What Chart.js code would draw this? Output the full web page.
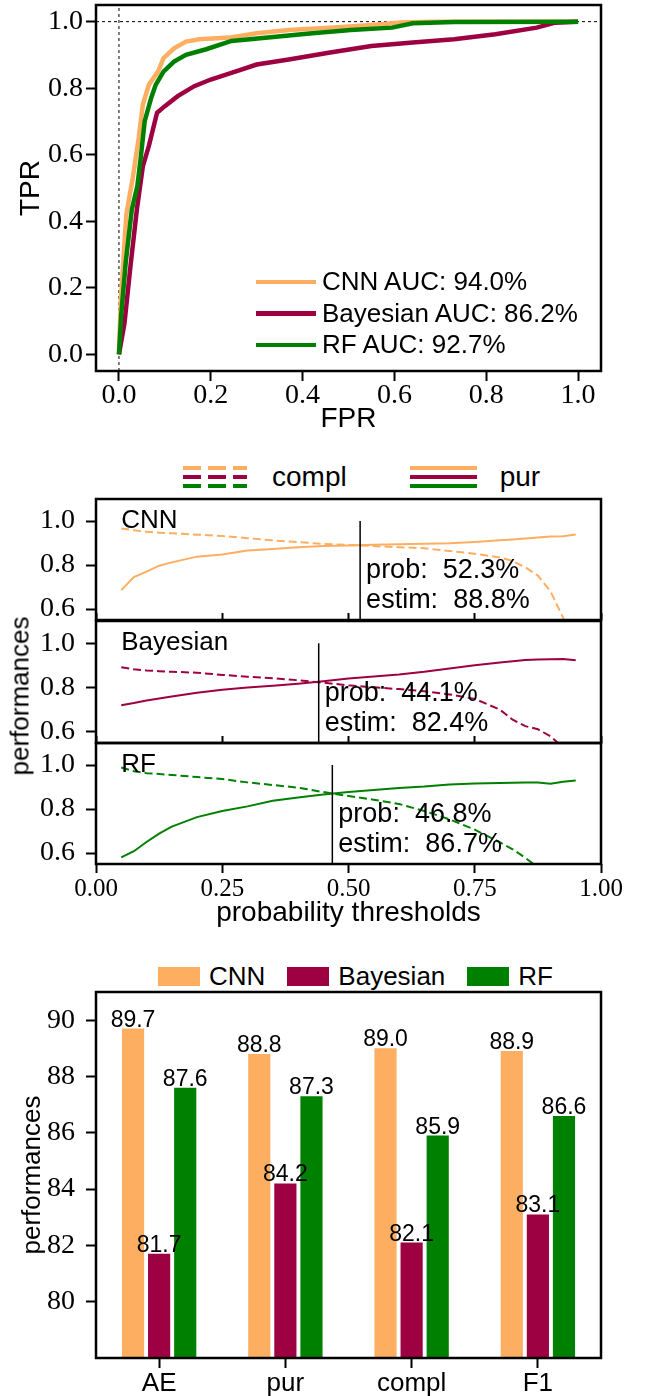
<!DOCTYPE html>
<html>
<head>
<meta charset="utf-8">
<script src="https://cdn.jsdelivr.net/npm/chart.js@4.4.1/dist/chart.umd.min.js"></script>
<style>
  html, body { margin: 0; padding: 0; background: #fff; }
  body { width: 648px; height: 1396px; position: relative; overflow: hidden;
         font-family: 'Liberation Sans', Arial, sans-serif; color: #000; }
  .box { position: absolute; left: 0; width: 648px; }
  .legend { position: absolute; white-space: nowrap; }
  .row { display: flex; align-items: center; }
  .ylab { position: absolute; transform: translate(-50%, -50%) rotate(-90deg);
          white-space: nowrap; font-size: 26px; }
</style>
</head>
<body>

<div class="box" style="top:0;height:440px"><canvas id="roc" width="648" height="440"></canvas></div>
<div class="legend" id="rocLegend" style="left:256px;top:266px"></div>

<div class="legend row" id="panelLegend" style="left:183px;top:466px;height:22px"></div>
<div class="box" style="top:490px;height:135px"><canvas id="pCNN" width="648" height="135"></canvas></div>
<div class="box" style="top:612px;height:136px"><canvas id="pBay" width="648" height="136"></canvas></div>
<div class="box" style="top:734px;height:200px"><canvas id="pRF" width="648" height="200"></canvas></div>
<div class="ylab" style="left:20px;top:696px">performances</div>

<div class="legend row" id="barLegend" style="left:158px;top:967px;height:19px"></div>
<div class="box" style="top:940px;height:456px"><canvas id="bars" width="648" height="456"></canvas></div>

<script>
'use strict';

/* ── data ─────────────────────────────────────────────── */
const models = ['CNN', 'Bayesian', 'RF'];
const colors = ['#fdae61', '#9e0142', '#008000'];
const rocAuc = [94.0, 86.2, 92.7];

const cnnFpr = [0, 0.004, 0.016, 0.03, 0.043, 0.052, 0.065, 0.085, 0.097, 0.12, 0.146, 0.175, 0.24, 0.3, 0.37, 0.46, 0.55, 0.62, 0.7, 1.0];
const cnnTpr = [0, 0.16, 0.42, 0.53, 0.65, 0.75, 0.81, 0.85, 0.89, 0.92, 0.94, 0.947, 0.952, 0.965, 0.975, 0.982, 0.99, 0.998, 1.0, 1.0];
const bayFpr = [0, 0.012, 0.025, 0.039, 0.052, 0.065, 0.083, 0.10, 0.128, 0.164, 0.2, 0.245, 0.3, 0.37, 0.46, 0.55, 0.64, 0.73, 0.82, 0.91, 0.95, 1.0];
const bayTpr = [0, 0.093, 0.264, 0.435, 0.565, 0.626, 0.726, 0.746, 0.776, 0.806, 0.826, 0.846, 0.871, 0.886, 0.907, 0.927, 0.937, 0.947, 0.962, 0.982, 0.997, 1.0];
const rfFpr  = [0, 0.005, 0.015, 0.028, 0.04, 0.047, 0.056, 0.07, 0.08, 0.097, 0.12, 0.146, 0.19, 0.245, 0.325, 0.415, 0.505, 0.595, 0.64, 0.73, 1.0];
const rfTpr  = [0, 0.12, 0.28, 0.435, 0.505, 0.585, 0.70, 0.77, 0.81, 0.85, 0.88, 0.90, 0.917, 0.942, 0.952, 0.964, 0.975, 0.982, 0.995, 0.999, 1.0];

const thresholds = [0.05, 0.075, 0.1, 0.125, 0.15, 0.2, 0.25, 0.3, 0.35, 0.4, 0.45, 0.5, 0.55, 0.6, 0.65, 0.7, 0.75, 0.8, 0.825, 0.85, 0.875, 0.9, 0.925, 0.95];
const cnnPur   = [0.686, 0.745, 0.770, 0.797, 0.812, 0.838, 0.848, 0.866, 0.873, 0.881, 0.886, 0.889, 0.892, 0.894, 0.897, 0.899, 0.905, 0.912, 0.916, 0.921, 0.925, 0.929, 0.931, 0.939];
const cnnCompl = [0.966, 0.958, 0.951, 0.947, 0.944, 0.938, 0.932, 0.922, 0.912, 0.904, 0.896, 0.891, 0.886, 0.881, 0.876, 0.864, 0.851, 0.834, 0.818, 0.790, 0.752, 0.680, 0.560, 0.420];
const bayPur   = [0.720, 0.730, 0.742, 0.751, 0.760, 0.777, 0.790, 0.800, 0.808, 0.817, 0.828, 0.841, 0.850, 0.859, 0.871, 0.886, 0.900, 0.913, 0.918, 0.924, 0.926, 0.928, 0.929, 0.923];
const bayCompl = [0.891, 0.882, 0.877, 0.874, 0.871, 0.867, 0.857, 0.849, 0.842, 0.833, 0.822, 0.810, 0.801, 0.793, 0.783, 0.769, 0.749, 0.700, 0.655, 0.626, 0.612, 0.580, 0.530, 0.450];
const rfPur    = [0.580, 0.608, 0.650, 0.688, 0.720, 0.763, 0.791, 0.812, 0.837, 0.852, 0.866, 0.877, 0.886, 0.896, 0.902, 0.911, 0.916, 0.918, 0.919, 0.921, 0.920, 0.915, 0.924, 0.929];
const rfCompl  = [0.989, 0.972, 0.963, 0.959, 0.955, 0.945, 0.936, 0.921, 0.909, 0.897, 0.877, 0.859, 0.842, 0.823, 0.791, 0.753, 0.706, 0.648, 0.617, 0.578, 0.535, 0.490, 0.440, 0.390];

const optProb  = [52.3, 44.1, 46.8];
const optEstim = [88.8, 82.4, 86.7];

const metrics   = ['AE', 'pur', 'compl', 'F1'];
const cnnScores = [89.7, 88.8, 89.0, 88.9];
const bayScores = [81.7, 84.2, 82.1, 83.1];
const rfScores  = [87.6, 87.3, 85.9, 86.6];

const rocTicks    = [0, 0.2, 0.4, 0.6, 0.8, 1.0];
const panelTicks  = [0.6, 0.8, 1.0];
const threshTicks = [0, 0.25, 0.5, 0.75, 1.0];
const scoreTicks  = [80, 82, 84, 86, 88, 90];

/* ── helpers ──────────────────────────────────────────── */
const pts = (xs, ys) => xs.map((x, i) => ({ x, y: ys[i] }));
const serif = size => ({ family: 'Liberation Serif', size });
const sans  = size => ({ family: 'Liberation Sans', size });

Chart.defaults.color = '#000';
Chart.defaults.font.family = 'Liberation Serif';

// box around every plot area, like matplotlib spines
Chart.register({
  id: 'frame',
  afterDraw(chart) {
    const { ctx, chartArea: a } = chart;
    ctx.save();
    ctx.lineWidth = 2.5;
    ctx.strokeStyle = '#000';
    ctx.strokeRect(a.left, a.top, a.right - a.left, a.bottom - a.top);
    ctx.restore();
  }
});

// panel name + chosen threshold text
const panelText = {
  id: 'panelText',
  afterDatasetsDraw(chart, args, o) {
    const { ctx, scales: { x, y } } = chart;
    const tx = x.getPixelForValue(o.thr) + 6;
    ctx.save();
    ctx.fillStyle = '#000';
    ctx.textBaseline = 'alphabetic';
    ctx.font = '26px "Liberation Sans"';
    ctx.fillText(o.name, x.getPixelForValue(0.05), y.getPixelForValue(0.968));
    ctx.font = '27px "Liberation Sans"';
    ctx.fillText(`prob:  ${o.prob.toFixed(1)}%`, tx, y.getPixelForValue(0.74));
    ctx.fillText(`estim:  ${o.estim.toFixed(1)}%`, tx, y.getPixelForValue(0.605));
    ctx.restore();
  }
};

// value written on top of each bar
const barValues = {
  id: 'barValues',
  afterDatasetsDraw(chart) {
    const { ctx } = chart;
    ctx.save();
    ctx.font = '23px "Liberation Sans"';
    ctx.textAlign = 'center';
    ctx.textBaseline = 'alphabetic';
    ctx.fillStyle = '#000';
    chart.data.datasets.forEach((ds, i) => {
      chart.getDatasetMeta(i).data.forEach((bar, j) => {
        ctx.fillText(ds.data[j].toFixed(1), bar.x, bar.y - 2);
      });
    });
    ctx.restore();
  }
};

// fixed axis size, no extra room for overhanging labels
function fixSize(s, width, height) {
  if (width !== undefined) s.width = width;
  if (height !== undefined) s.height = height;
  s.paddingTop = s.paddingBottom = s.paddingLeft = s.paddingRight = 0;
}

function axis(opts) {
  const { min, max, ticks, fmt, font, width, height, tickLength = 10, pad = 11, labels = true, title } = opts;
  return {
    type: 'linear', min, max,
    afterBuildTicks: s => { s.ticks = ticks.map(v => ({ value: v })); },
    afterFit: s => fixSize(s, width, height),
    grid: { drawOnChartArea: false, tickLength, tickWidth: 2, tickColor: '#000' },
    border: { display: false },
    ticks: { display: labels, font, color: '#000', padding: pad, autoSkip: false, maxRotation: 0, callback: fmt },
    title: title || { display: false }
  };
}

const noChrome = { legend: { display: false }, tooltip: { enabled: false } };

/* ── ROC ──────────────────────────────────────────────── */
const rocX = [cnnFpr, bayFpr, rfFpr];
const rocY = [cnnTpr, bayTpr, rfTpr];

new Chart(document.getElementById('roc'), {
  type: 'scatter',
  data: {
    datasets: [
      { data: [{ x: 0, y: -0.05 }, { x: 0, y: 1.05 }], borderColor: '#000', borderWidth: 1, borderDash: [3, 3], showLine: true, pointRadius: 0, order: 10 },
      { data: [{ x: -0.05, y: 1 }, { x: 1.05, y: 1 }], borderColor: '#000', borderWidth: 1, borderDash: [3, 3], showLine: true, pointRadius: 0, order: 10 },
      ...models.map((m, i) => ({
        label: m, data: pts(rocX[i], rocY[i]), borderColor: colors[i], borderWidth: 4.5,
        showLine: true, pointRadius: 0, tension: 0, order: 3 - i
      }))
    ]
  },
  options: {
    responsive: false, animation: false,
    layout: { padding: { top: 5, right: 47, left: 0, bottom: 0 } },
    plugins: noChrome,
    scales: {
      x: axis({ min: -0.05, max: 1.05, ticks: rocTicks, fmt: v => v.toFixed(1), font: serif(28), height: 69, pad: -2,
                title: { display: true, text: 'FPR', font: sans(28), color: '#000', padding: { top: 0, bottom: 4 } } }),
      y: axis({ min: -0.05, max: 1.05, ticks: rocTicks, fmt: v => v.toFixed(1), font: serif(28), width: 96, pad: 3,
                title: { display: true, text: 'TPR', font: sans(28), color: '#000', padding: { top: 14, bottom: 0 } } })
    }
  }
});

document.getElementById('rocLegend').innerHTML = models.map((m, i) => `
  <div class="row" style="height:31.5px">
    <span style="display:inline-block;width:60px;height:4.5px;background:${colors[i]}"></span>
    <span style="font-size:26px;margin-left:6px">${m} AUC: ${rocAuc[i].toFixed(1)}%</span>
  </div>`).join('');

/* ── threshold panels ─────────────────────────────────── */
const panelMin = 0.55, panelMax = 1.1, markTop = 1.0;
const purs   = [cnnPur, bayPur, rfPur];
const compls = [cnnCompl, bayCompl, rfCompl];
const panelIds = ['pCNN', 'pBay', 'pRF'];

panelIds.forEach((id, i) => {
  const last = i === panelIds.length - 1;
  const thr = optProb[i] / 100;
  new Chart(document.getElementById(id), {
    type: 'scatter',
    data: {
      datasets: [
        { data: pts(thresholds, compls[i]), borderColor: colors[i], borderWidth: 2, borderDash: [8, 4], showLine: true, pointRadius: 0, order: 3 },
        { data: pts(thresholds, purs[i]), borderColor: colors[i], borderWidth: 2, showLine: true, pointRadius: 0, order: 2 },
        { data: [{ x: thr, y: markTop }, { x: thr, y: panelMin }], borderColor: '#000', borderWidth: 1.5, showLine: true, pointRadius: 0, order: 1 }
      ]
    },
    options: {
      responsive: false, animation: false,
      layout: { padding: { top: 9, right: 47, left: 0, bottom: last ? 0 : 5 } },
      plugins: { ...noChrome, panelText: { name: models[i], thr, prob: optProb[i], estim: optEstim[i] } },
      scales: {
        x: axis({ min: 0, max: 1, ticks: threshTicks, fmt: v => v.toFixed(2), font: serif(25),
                  height: last ? 70 : 0, tickLength: last ? 9 : -7, pad: 1, labels: last,
                  title: last ? { display: true, text: 'probability thresholds', font: sans(28), color: '#000', padding: { top: 0, bottom: 4 } } : null }),
        y: axis({ min: panelMin, max: panelMax, ticks: panelTicks, fmt: v => v.toFixed(1), font: serif(28), width: 96 })
      }
    },
    plugins: [panelText]
  });
});

document.getElementById('panelLegend').innerHTML = ['compl', 'pur'].map((name, k) => {
  const w = k === 0 ? 64 : 67;
  const lines = colors.map((c, j) => {
    const bg = k === 0 ? `repeating-linear-gradient(90deg, ${c} 0 18px, transparent 18px 25px)` : c;
    return `<span style="position:absolute;left:0;top:${j * 9}px;width:${w}px;height:4px;background:${bg}"></span>`;
  }).join('');
  return `<span style="position:relative;display:inline-block;width:${w}px;height:22px;margin-left:${k === 0 ? 0 : 63}px">${lines}</span>
          <span style="font-size:28px;margin-left:${k === 0 ? 25 : 23}px">${name}</span>`;
}).join('');

/* ── bar summary ──────────────────────────────────────── */
const scores = [cnnScores, bayScores, rfScores];

new Chart(document.getElementById('bars'), {
  type: 'bar',
  data: {
    labels: metrics,
    datasets: models.map((m, i) => ({
      label: m, data: scores[i], backgroundColor: colors[i],
      categoryPercentage: 0.62, barPercentage: 0.85
    }))
  },
  options: {
    responsive: false, animation: false,
    layout: { padding: { top: 52, right: 47, left: 0, bottom: 0 } },
    plugins: noChrome,
    scales: {
      x: {
        afterFit: s => fixSize(s, undefined, 38),
        grid: { drawOnChartArea: false, offset: false, tickLength: 10, tickWidth: 2, tickColor: '#000' },
        border: { display: false },
        ticks: { font: sans(26), color: '#000', padding: 0 }
      },
      y: axis({ min: 78, max: 91, ticks: scoreTicks, fmt: v => String(v), font: serif(28), width: 96,
                title: { display: true, text: 'performances', font: sans(26), color: '#000', padding: { top: 17, bottom: 0 } } })
    }
  },
  plugins: [barValues]
});

document.getElementById('barLegend').innerHTML = models.map((m, i) => `
  <span style="display:inline-block;width:42px;height:19px;background:${colors[i]}"></span>
  <span style="font-size:26px;margin-left:9px;margin-right:22px">${m}</span>`).join('');
</script>
</body>
</html>
